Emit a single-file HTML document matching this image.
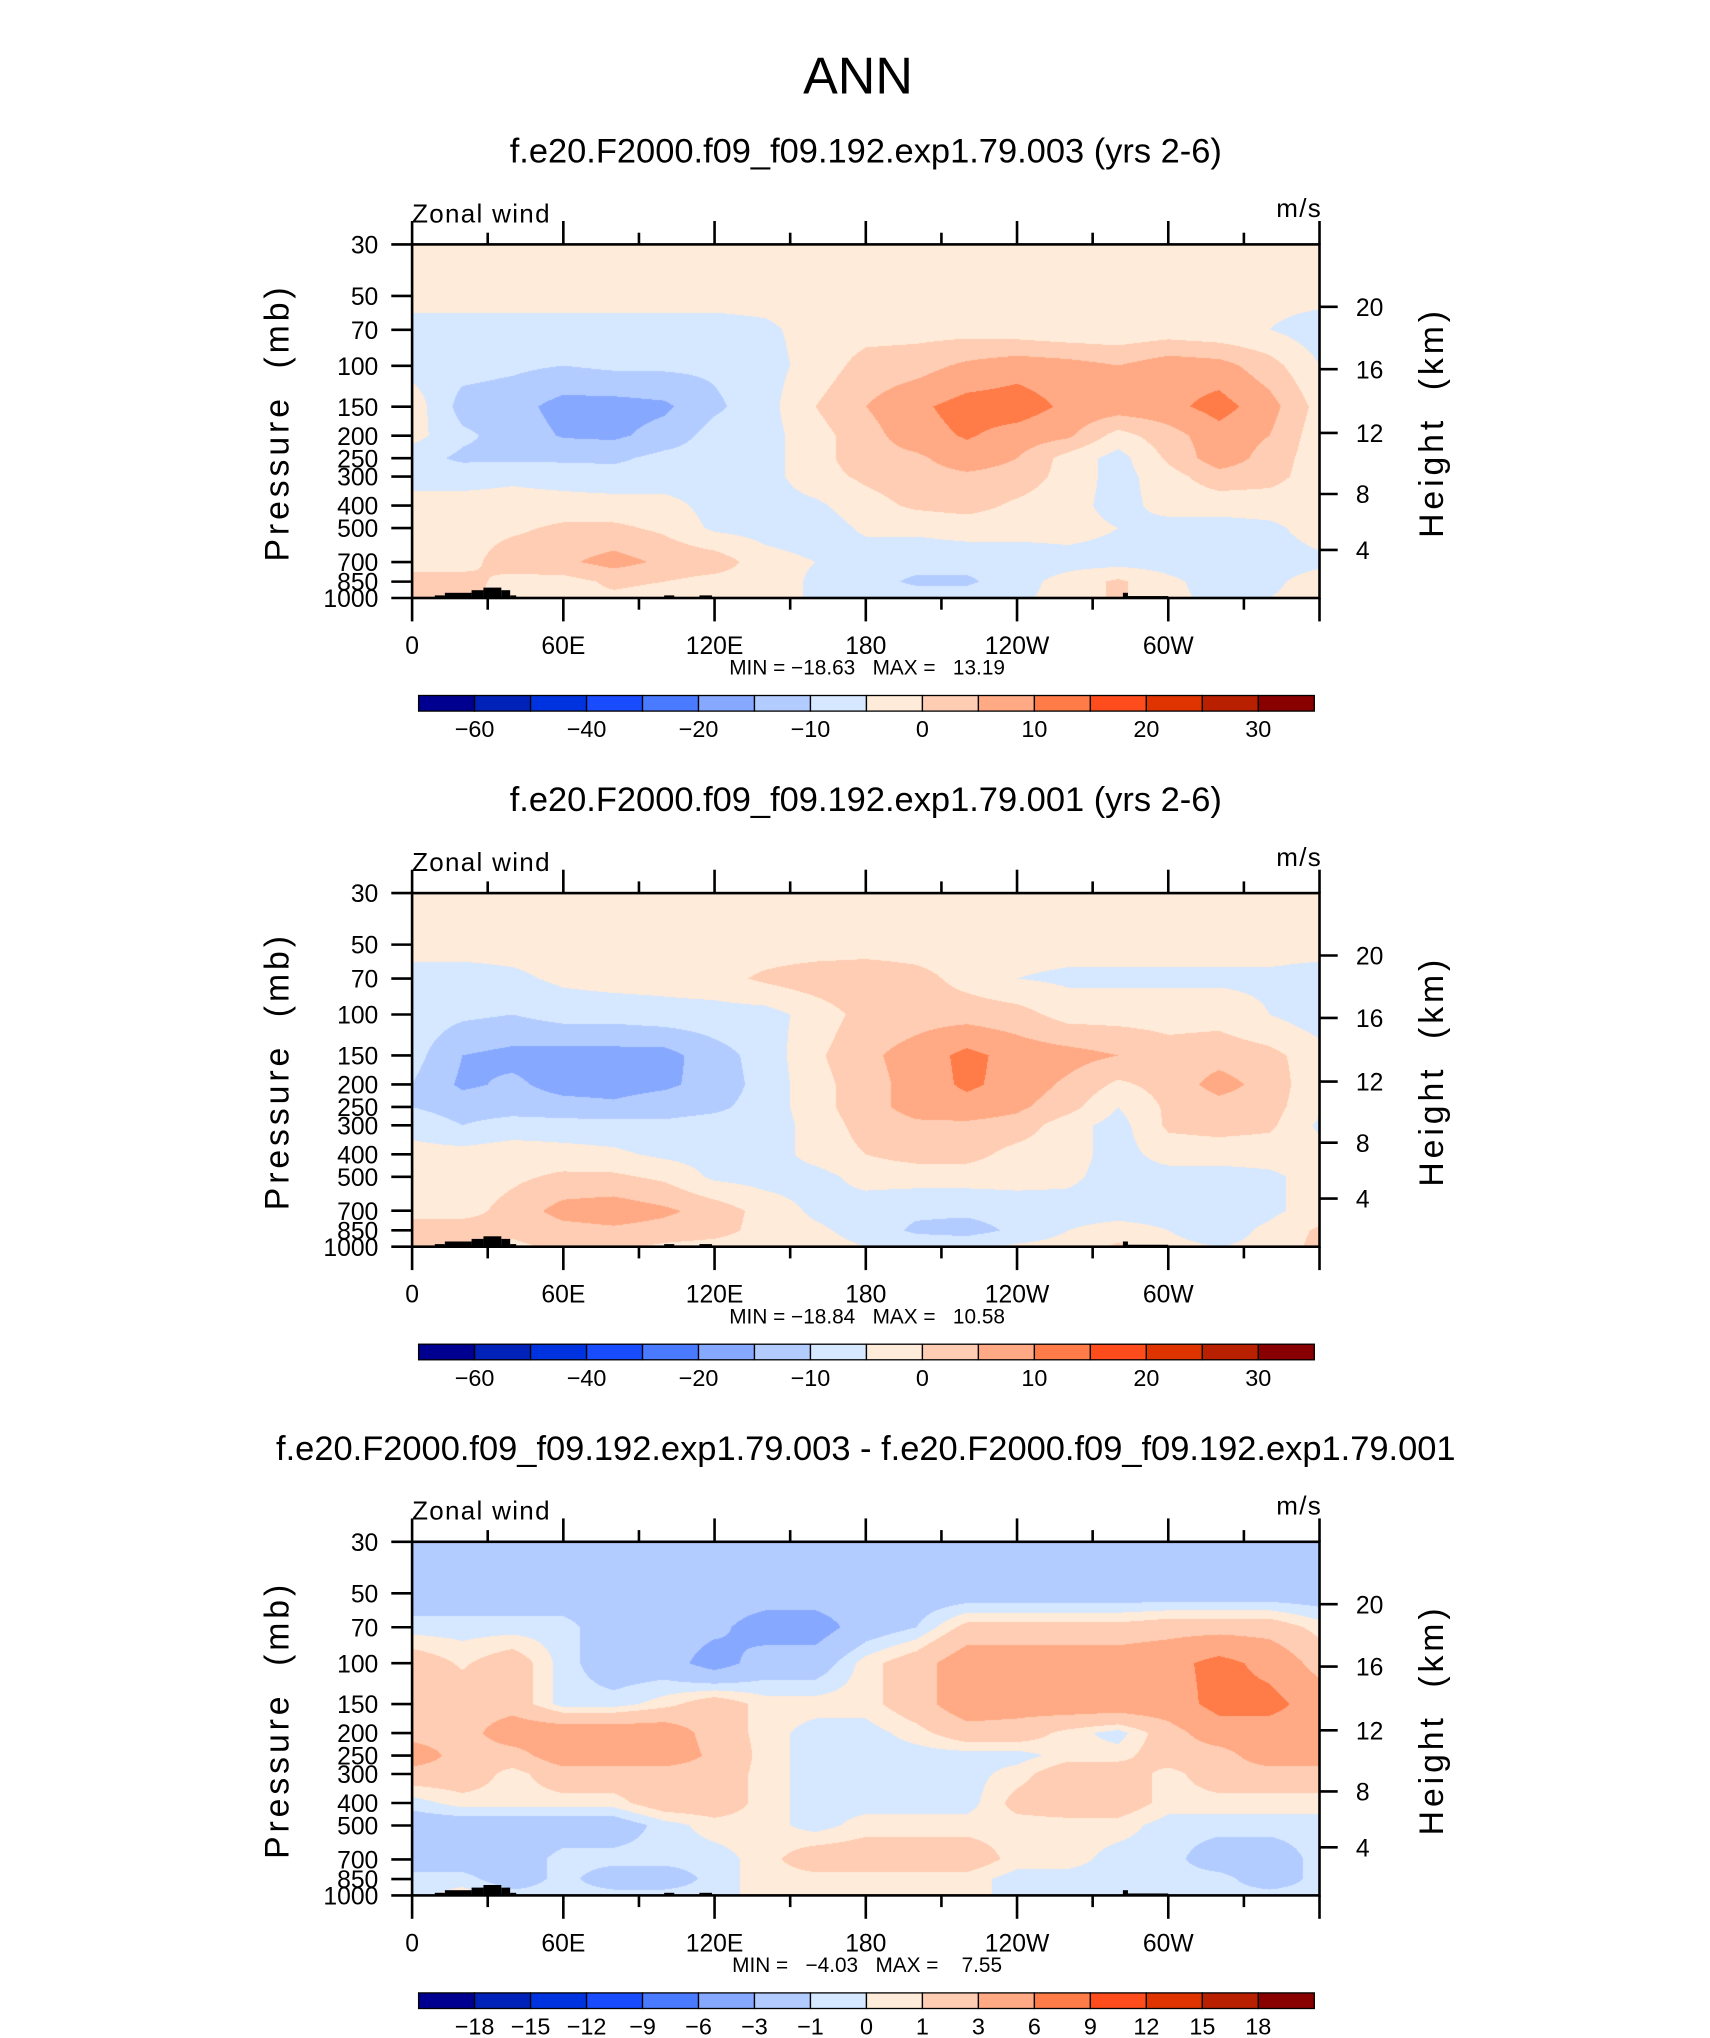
<!DOCTYPE html>
<html><head><meta charset="utf-8"><style>
body{margin:0;background:#fff}
#wrap{position:relative;width:1710px;height:2038px;overflow:hidden;background:#fff}
canvas{position:absolute}
svg{position:absolute;left:0;top:0}
text{font-family:"Liberation Sans",sans-serif;fill:#000;white-space:pre}
</style></head><body>
<div id="wrap">
<canvas id="c0"></canvas>
<canvas id="c1"></canvas>
<canvas id="c2"></canvas>
<svg id="s" width="1710" height="2038" viewBox="0 0 1315.38 1567.69">
<text x="660" y="72" font-size="40" text-anchor="middle">ANN</text>
</svg>
</div>
<script>
// ---- data ----
const lons = [0,20,40,60,80,100,120,140,160,180,200,220,240,260,280,300,320,340,360];
const levs = [30,50,70,100,150,200,250,300,400,500,700,850,1000];
const field1 = [
[-2.5,-2.5,-2.5,-2.5,-2.5,-2.5,-2.5,-2.5,-2.5,-2.5,-2.5,-2.5,-2.5,-2.5,-2.5,-2.5,-2.5,-2.5,-2.5],
[-3,-3,-3,-3,-3,-3,-3,-3,-3,-3,-3,-3,-3,-3,-3,-3,-3,-3,-3],
[-7,-7,-7,-7,-7,-7,-7,-6,-3,-2,-2,-2,-3,-4,-4,-3,-4,-5,-8],
[-7,-8,-9,-10,-9,-9,-9,-7,-3,2,3,6,8,7,5,8,7,2,-5],
[-2,-12,-13,-17,-17,-16,-11,-7,0,5,9,12,12.5,9,8,8.5,12,7,-2],
[-3,-9,-12,-15.5,-16,-13,-8,-7,-2,3,8,10.5,8,6,-2,3,8,5,-3],
[-8,-11,-11,-11,-11,-8.5,-8,-7,-2,3,4,8,5,-2,-7,1,8,3,-3],
[-7,-7,-6,-7,-8,-8,-8,-7,-2,1,3,4,3,-2,-7,-2,3,2,-3],
[-3,-3,-3,-3,-3,-3,-7,-7,-6,-2,1,2,-1,-3,-7,-3,-3,-3,-3],
[-3,-2,-1,1,1,-1,-6,-7,-8,-4,-4,-3,-3,-3,-5,-7,-7,-6,-3],
[-3,-2,3,4,7,4,3,-3,-5,-8,-8,-8,-8,-7,-7,-7,-7,-7,-6],
[3,2,-2,-2,1,0,-2,-2,-6,-8,-11,-11,-7,-3,1,-4,-7,-6,-3],
[3,1,-2,-1,-1,-2,-2,-2,-6,-7,-7,-7,-6,-3,1,-4,-6,-5,-3]];
const field2 = [
[-2.5,-2.5,-2.5,-2.5,-2.5,-2.5,-2.5,-2.5,-2.5,-2.5,-2.5,-2.5,-2.5,-2.5,-2.5,-2.5,-2.5,-2.5,-2.5],
[-3,-3,-3,-3,-3,-3,-3,-3,-3,-3,-3,-3,-3,-3,-3,-3,-3,-3,-3],
[-7,-7,-6,-4,-3,-3,-2,1,3,4,2,-2,-5,-6,-6,-6,-6,-6,-7],
[-7,-9,-10,-8,-8,-7,-7,-7,-3,2,3,3,2,-2,-2,-2,-2,-5,-8],
[-8,-15,-16.5,-17,-17,-17,-12,-8,-1,4,7,11.5,8,7,5,2,3,1.5,-3],
[-10,-16,-14,-17,-17,-16,-13,-8,-2,3,7,11,8,4,-1,2,7,3,-4],
[-10,-12,-12,-13,-14,-12,-11,-8,-2,3,7,8,6,2,-5,1,3,2,-4],
[-7,-10,-8,-8,-8,-9,-8,-8,-3,2,4,4,3,-3,-7,1,2,1,-6],
[-3,-3,-2,-3,-4,-6,-7,-8,-3,0,2,2,-2,-3,-7,-3,-3,-3,-3],
[-3,-3,-1,1,1,-1,-6,-7,-7,-3,-3,-3,-3,-4,-7,-7,-7,-6,-3],
[-2,-2,2,7,8,6,3,-2,-6,-8,-9,-9,-8,-7,-7,-7,-7,-6,-3],
[3,3,1,3,4,3,2,-2,-4,-7,-11,-12,-9,-5,-3,-5,-7,-4,1],
[3,2,-1,1,1,-1,-2,-3,-3,-5,-6,-6,-4,-3,1,-4,-5,-4,2]];
const field3 = [
[-2,-2,-2,-2,-2,-2,-2,-2,-2,-2,-2,-2,-2,-2,-2,-2,-2,-2,-2],
[-2,-2,-2,-2,-2,-2,-2,-2,-2,-2,-2,-2,-2,-2,-2,-2,-2,-2,-2],
[-0.5,-0.5,-0.5,-0.5,-2,-2,-2.5,-4,-4,-2,-1,1.5,1.5,1.5,1.5,2,2,2,0.5],
[2,0.8,2,-0.5,-2,-2,-4,-2,-2,0.5,2,4.5,4.5,4.5,4.5,5,7,5,2],
[2,2,2,-0.5,-0.5,0.5,2,0.5,0.5,0.5,2,4.5,4,4.5,4.5,4.5,7,7,4.5],
[2,2,4.5,4.5,4.5,4.5,2,0.5,-0.5,-0.5,0.5,2,2,0.5,-0.5,2,4.5,4.5,4.5],
[4.5,2,2,4.5,4.5,4.5,2.5,0.5,-0.5,-0.5,-0.5,-0.5,-0.5,0.5,0.5,2,2,4.5,4.5],
[2,2,0.5,2,2,2,2,0.5,-0.5,-0.5,-0.5,-0.5,0.5,2,2,0.5,2,2,2],
[-0.5,0.5,0.5,0.5,0.5,2,2,0.5,-0.5,-0.5,-0.5,-0.5,1.5,2,2,0.5,0.5,0.5,0.5],
[-2,-2,-2,-2,-2,-0.5,0.5,0.5,-0.5,0.5,0.5,0.5,0.5,0.5,0.5,-0.5,-0.5,-0.5,-0.5],
[-2,-2,-2,-0.5,-0.5,-0.5,-0.5,0.5,2,2,2,2,0.5,0.5,-0.5,-0.5,-2,-2,-0.5],
[-0.5,-0.5,-2,-0.5,-2,-2,-0.5,0.5,0.5,0.5,0.5,0.5,-0.5,-0.5,-0.5,-0.5,-0.5,-2,-0.5],
[-0.5,0.5,-0.5,-0.5,-0.5,-0.5,-0.5,0.5,0.5,0.5,0.5,0.5,-0.5,-0.5,-0.5,-0.5,-0.5,-0.5,-0.5]];
const bounds1 = [-60,-50,-40,-30,-20,-15,-10,-5,0,5,10,15,20,25,30];
const bounds3 = [-18,-15,-12,-9,-6,-3,-1,0,1,3,6,9,12,15,18];
const cbLabels1 = ["","\u221260","","\u221240","","\u221220","","\u221210","","0","","10","","20","","30"];
const cbLabels3 = ["","\u221218","\u221215","\u221212","\u22129","\u22126","\u22123","\u22121","0","1","3","6","9","12","15","18"];
const colors = ["#000090","#0022b8","#0033e0","#1a4cff","#4a7aff","#86a8ff","#b3ccff","#d6e8ff","#ffebd9","#ffcdb3","#ffaa85","#ff7b47","#ff4c1c","#e03400","#b82000","#880000"];
const titles = ["f.e20.F2000.f09_f09.192.exp1.79.003 (yrs 2-6)","f.e20.F2000.f09_f09.192.exp1.79.001 (yrs 2-6)","f.e20.F2000.f09_f09.192.exp1.79.003 - f.e20.F2000.f09_f09.192.exp1.79.001"];
const minmax = ["MIN = \u221218.63   MAX =   13.19","MIN = \u221218.84   MAX =   10.58","MIN =   \u22124.03   MAX =    7.55"];
const xTickLabels = ["0","60E","120E","180","120W","60W"];
const pLabels = [30,50,70,100,150,200,250,300,400,500,700,850,1000];
const hLabels = [20,16,12,8,4];
const hOffsets = [48,96,145,192,235];

// ---- layout (display units; scale to real px) ----
const S = 1.3;
const X0 = 317, X1 = 1015, PH = 272;
const panelTop = [188, 687, 1186];
const NS = "http://www.w3.org/2000/svg";
const svg = document.getElementById('s');
function el(tag, attrs, parent){ const e=document.createElementNS(NS,tag); for(const k in attrs) e.setAttribute(k,attrs[k]); (parent||svg).appendChild(e); return e; }
function xLon(lon){ return X0 + lon/360*(X1-X0); }
function yP(p, top){ return top + Math.log(p/30)/Math.log(1000/30)*PH; }

function hexRGB(h){ return [parseInt(h.substr(1,2),16),parseInt(h.substr(3,2),16),parseInt(h.substr(5,2),16)]; }
const rgb = colors.map(hexRGB);
function binOf(v,b){ let k=0; for(let i=0;i<b.length;i++) if(v>=b[i]) k=i+1; return k; }

function drawField(id, field, bounds, top){
  const cv = document.getElementById(id);
  const L = Math.round(X0*S), T = Math.round(top*S), R = Math.round(X1*S), B = Math.round((top+PH)*S);
  const w = R-L, h = B-T;
  cv.width=w; cv.height=h; cv.style.left=L+'px'; cv.style.top=T+'px';
  const ctx = cv.getContext('2d');
  const img = ctx.createImageData(w,h);
  const lnl = levs.map(p=>Math.log(p));
  for(let py=0;py<h;py++){
    const frac=(py+0.5)/h;
    const lp=Math.log(30)+frac*Math.log(1000/30);
    let j=0; while(j<levs.length-2 && lp>lnl[j+1]) j++;
    let ty=(lp-lnl[j])/(lnl[j+1]-lnl[j]); ty=Math.max(0,Math.min(1,ty));
    for(let px=0;px<w;px++){
      const lon=(px+0.5)/w*360;
      let i=Math.min(lons.length-2,Math.floor(lon/20));
      const tx=(lon-lons[i])/20;
      const v=(field[j][i]*(1-tx)+field[j][i+1]*tx)*(1-ty)+(field[j+1][i]*(1-tx)+field[j+1][i+1]*tx)*ty;
      const c=rgb[binOf(v,bounds)];
      const o=(py*w+px)*4; img.data[o]=c[0];img.data[o+1]=c[1];img.data[o+2]=c[2];img.data[o+3]=255;
    }
  }
  ctx.putImageData(img,0,0);
}

const fields=[field1,field2,field3];
const bnds=[bounds1,bounds1,bounds3];
const cbl=[cbLabels1,cbLabels1,cbLabels3];
const topo=[[9,13,2],[13,23.6,4],[23.6,28.3,6],[28.3,35.4,8],[35.4,38.9,6],[38.9,41.3,2],[100,104,2],[114,119,2],[282,284,4],[284,300,1.5]];

for(let k=0;k<3;k++){
  const top=panelTop[k], off=top-188;
  drawField('c'+k, fields[k], bnds[k], top);
  const g=el('g',{});
  
  
  const t=el('text',{x:666,y:125+off,'font-size':26.5,'text-anchor':'middle'},g); t.textContent=titles[k];
  
  
  const zw=el('text',{x:317,y:171+off,'font-size':20,'letter-spacing':'1'},g); zw.textContent='Zonal wind';
  
  
  const un=el('text',{x:1017,y:167+off,'font-size':20,'text-anchor':'end','letter-spacing':'1'},g); un.textContent='m/s';
  
  
  topo.forEach(tp=>{
    const r=el('rect',{x:xLon(tp[0]),y:top+PH-tp[2],width:xLon(tp[1])-xLon(tp[0]),height:tp[2],fill:'#000'},g);
    
    
  });
  const fr=el('rect',{x:X0,y:top,width:X1-X0,height:PH,fill:'none',stroke:'#000','stroke-width':2},g);
  
  
  for(let lon=0;lon<=360;lon+=30){
    const major=lon%60===0, len=major?18:9, x=xLon(lon);
    el('line',{x1:x,y1:top,x2:x,y2:top-len,stroke:'#000','stroke-width':2},g);
    el('line',{x1:x,y1:top+PH,x2:x,y2:top+PH+len,stroke:'#000','stroke-width':2},g);
    if(major && lon<360){
      const lt=el('text',{x:x,y:top+PH+43,'font-size':19,'text-anchor':'middle'},g); lt.textContent=xTickLabels[lon/60];
      
      
    }
  }
  pLabels.forEach(p=>{
    const y=yP(p,top);
    el('line',{x1:X0,y1:y,x2:X0-16,y2:y,stroke:'#000','stroke-width':2},g);
    const pt=el('text',{x:291,y:y+7,'font-size':19,'text-anchor':'end'},g); pt.textContent=p;
    
    
  });
  hLabels.forEach((hk,i)=>{
    const y=top+hOffsets[i];
    el('line',{x1:X1,y1:y,x2:X1+14,y2:y,stroke:'#000','stroke-width':2},g);
    const ht=el('text',{x:1043,y:y+7,'font-size':19},g); ht.textContent=hk;
    
    
  });
  const yt=el('text',{x:0,y:0,'font-size':26,'text-anchor':'middle','letter-spacing':'3',transform:`translate(222,${top+137}) rotate(-90)`},g); yt.textContent='Pressure  (mb)';
  
  
  const y2=el('text',{x:0,y:0,'font-size':26,'text-anchor':'middle','letter-spacing':'3',transform:`translate(1110,${top+137}) rotate(-90)`},g); y2.textContent='Height  (km)';
  
  
  const mm=el('text',{x:667,y:top+PH+59,'font-size':16,'text-anchor':'middle'},g); mm.textContent=minmax[k];
  
  
  const cbT=top+347, bw=(1011-322)/16;
  colors.forEach((c,i)=>{
    const r=el('rect',{x:322+i*bw,y:cbT,width:bw,height:12,fill:c,stroke:'#000','stroke-width':1},g);
    
    
  });
  cbl[k].forEach((lab,i)=>{
    if(!lab) return;
    const ct=el('text',{x:322+i*bw,y:cbT+32,'font-size':18,'text-anchor':'middle'},g); ct.textContent=lab;
    
    
  });
}
</script>
</body></html>
